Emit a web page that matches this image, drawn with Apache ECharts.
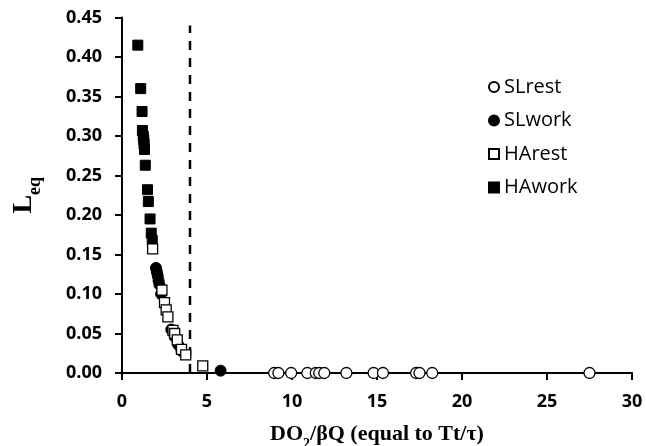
<!DOCTYPE html>
<html lang="en">

<head>
    <meta charset="UTF-8">
    <title>Leq vs DO2/bQ</title>
</head>

<body style="margin:0">
    <div id="main" style="width: 646px; height:446px"></div>
    <script src="https://cdn.jsdelivr.net/npm/echarts@6/dist/echarts.min.js"></script>
    <script type="text/javascript">
        // data: [DO2/bQ, Leq]
        var slRest = [[8.95, 0], [9.2, 0], [9.95, 0], [10.9, 0], [11.4, 0], [11.6, 0], [11.9, 0], [13.2, 0],
            [14.8, 0], [15.35, 0], [17.3, 0], [17.5, 0], [18.25, 0], [27.5, 0]];
        var slWork = [[2.0, 0.133], [2.05, 0.128], [2.1, 0.123], [2.15, 0.117], [2.2, 0.112], [2.3, 0.1],
            [2.9, 0.055], [3.1, 0.046], [3.3, 0.036], [3.5, 0.028], [5.8, 0.003]];
        var haRest = [[1.8, 0.157], [2.35, 0.105], [2.5, 0.089], [2.6, 0.08], [2.7, 0.071], [3.0, 0.054],
            [3.1, 0.05], [3.25, 0.042], [3.5, 0.03], [3.75, 0.023], [4.75, 0.009]];
        var haWork = [[0.93, 0.415], [1.1, 0.36], [1.18, 0.331], [1.2, 0.307], [1.25, 0.3], [1.28, 0.295],
            [1.3, 0.29], [1.32, 0.283], [1.37, 0.263], [1.5, 0.232], [1.55, 0.217], [1.65, 0.195],
            [1.72, 0.177], [1.78, 0.168]];
        var threshold = [[4, 0], [4, 0.44]];
        var legendNames = ['SLrest', 'SLwork', 'HArest', 'HAwork'];

        var myChart = echarts.init(document.getElementById('main'));

        var tickFont = { color: '#000', fontFamily: 'Open Sans', fontWeight: 'bold', fontSize: 18 };

        var option = {
            animation: false,
            backgroundColor: '#fff',
            grid: { left: 122, right: 14, top: 17.5, bottom: 73, containLabel: false, outerBoundsMode: 'none' },
            legend: {
                data: legendNames,
                orient: 'vertical',
                left: 483,
                top: 72,
                itemWidth: 10,
                itemHeight: 10,
                itemGap: 13.5,
                textStyle: { color: '#000', fontFamily: 'Open Sans', fontSize: 20, lineHeight: 20 }
            },
            xAxis: {
                type: 'value',
                min: 0,
                max: 30,
                interval: 5,
                name: '{b|DO}{s|2}{b|/βQ (equal to Tt/τ)}',
                nameLocation: 'middle',
                nameGap: 50,
                nameTextStyle: {
                    rich: {
                        b: { fontFamily: 'Liberation Serif', fontWeight: 'bold', fontSize: 22, color: '#000' },
                        s: { fontFamily: 'Liberation Serif', fontWeight: 'bold', fontSize: 14, color: '#000', verticalAlign: 'bottom', padding: [0, 0, -6, 0] }
                    }
                },
                axisLine: { lineStyle: { color: '#000', width: 2 } },
                axisTick: { length: 7, lineStyle: { color: '#000', width: 2 } },
                axisLabel: Object.assign({ margin: 20 }, tickFont),
                splitLine: { show: false }
            },
            yAxis: {
                type: 'value',
                min: 0,
                max: 0.45,
                interval: 0.05,
                name: '{b|L}{s|eq}',
                nameLocation: 'middle',
                nameGap: 84,
                nameTextStyle: {
                    rich: {
                        b: { fontFamily: 'Liberation Serif', fontWeight: 'bold', fontSize: 28, color: '#000' },
                        s: { fontFamily: 'Liberation Serif', fontWeight: 'bold', fontSize: 18, color: '#000', verticalAlign: 'bottom', padding: [0, 0, -6, 0] }
                    }
                },
                axisLine: { show: true, lineStyle: { color: '#000', width: 2 } },
                axisTick: { show: true, length: 7, lineStyle: { color: '#000', width: 2 } },
                axisLabel: Object.assign({
                    margin: 20,
                    formatter: function (v) { return v.toFixed(2); }
                }, tickFont),
                splitLine: { show: false }
            },
            series: [{
                name: 'threshold',
                type: 'line',
                data: threshold,
                symbol: 'none',
                lineStyle: { color: '#000', width: 2.5, type: [9, 8] },
                z: 1
            }, {
                name: 'HAwork',
                type: 'scatter',
                symbol: 'rect',
                symbolSize: 10,
                data: haWork,
                itemStyle: { color: '#000', borderColor: '#000', borderWidth: 1, opacity: 1 }
            }, {
                name: 'SLwork',
                type: 'scatter',
                symbol: 'circle',
                symbolSize: 11,
                data: slWork,
                itemStyle: { color: '#000', borderColor: '#000', borderWidth: 1, opacity: 1 }
            }, {
                name: 'HArest',
                type: 'scatter',
                symbol: 'rect',
                symbolSize: 10,
                data: haRest,
                itemStyle: { color: '#fff', borderColor: '#000', borderWidth: 1.3, opacity: 1 }
            }, {
                name: 'SLrest',
                type: 'scatter',
                symbol: 'circle',
                symbolSize: 11,
                data: slRest,
                itemStyle: { color: '#fff', borderColor: '#000', borderWidth: 1.3, opacity: 1 }
            }]
        };
        myChart.setOption(option);

        window.onresize = function () {
            myChart.resize();
        };
    </script>

</body>

</html>
